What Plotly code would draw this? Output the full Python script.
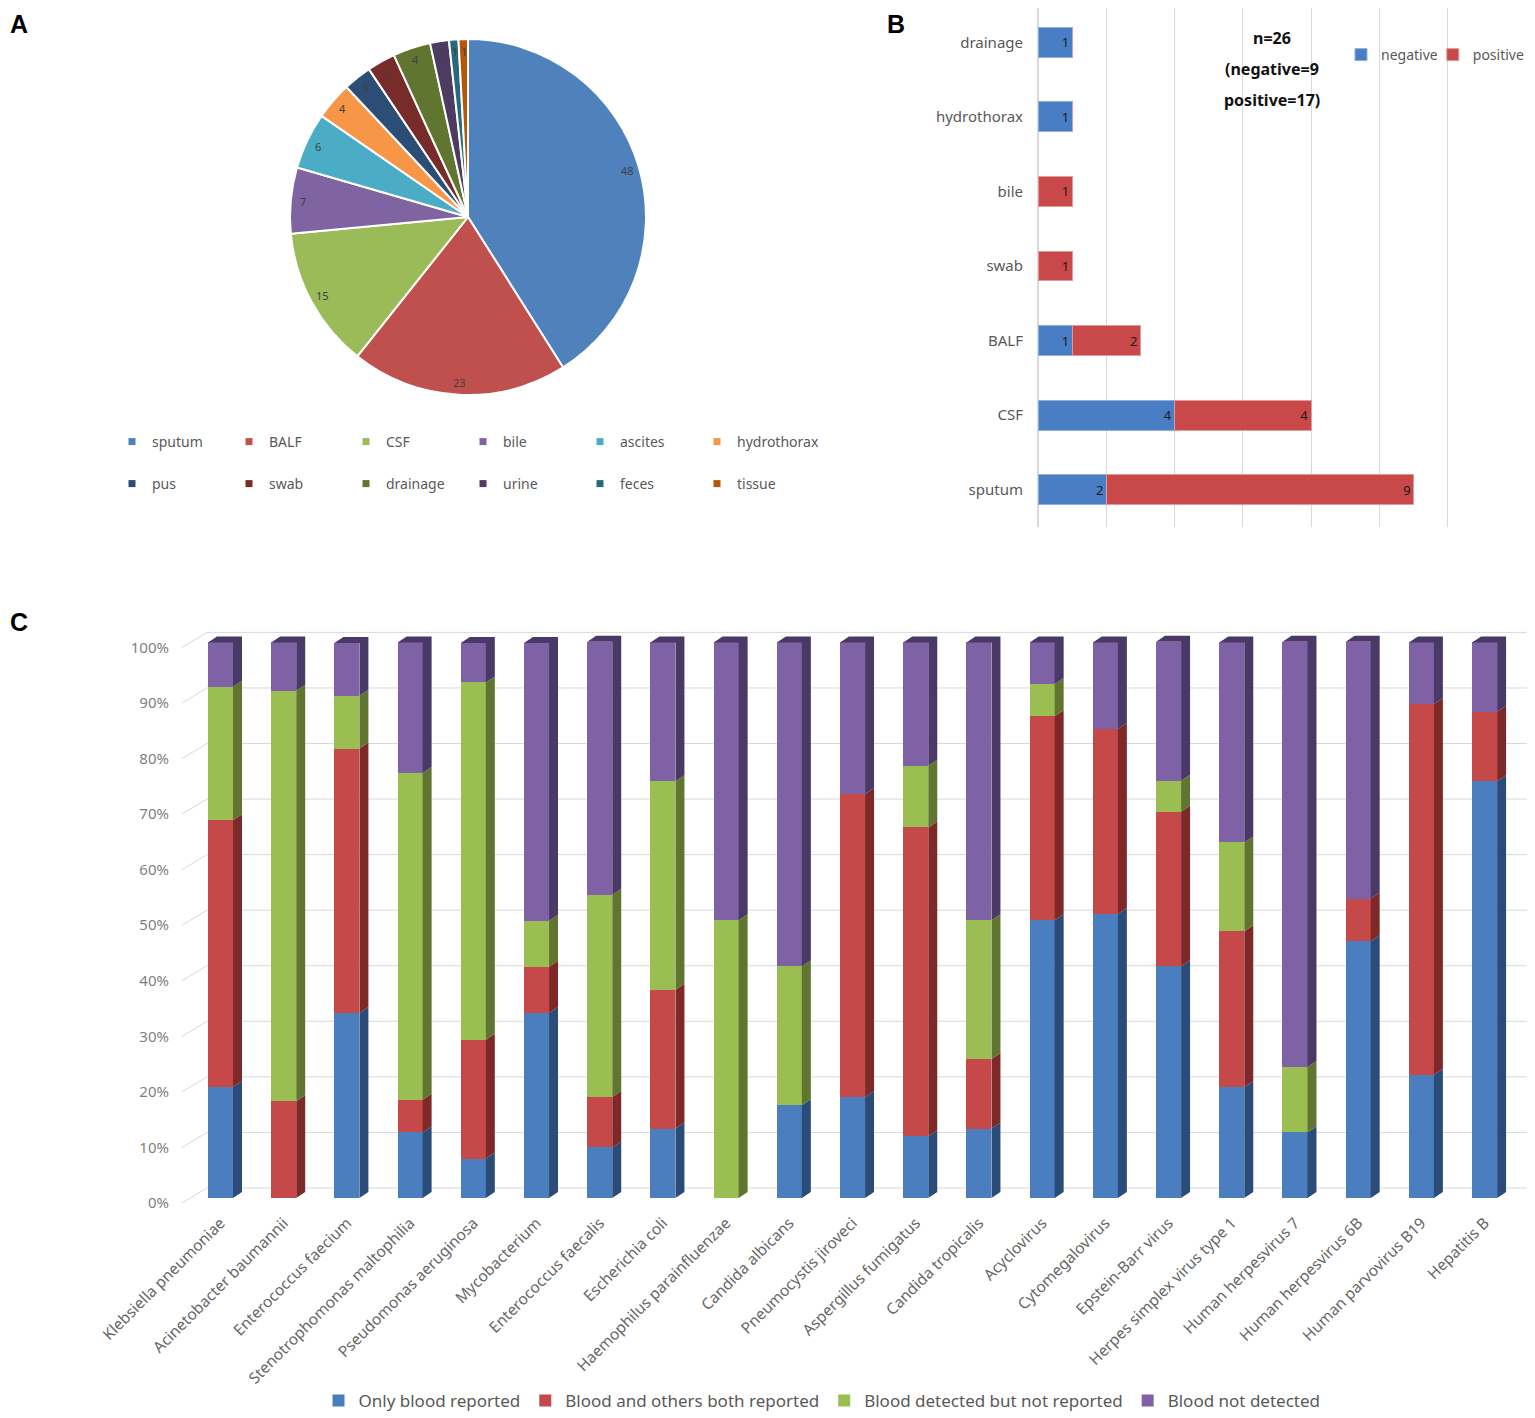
import math
import plotly.graph_objects as go

# the page body adds an 8px offset; work in reference pixels and shift
OFF = 8
W, H = 1535 - OFF, 1418 - OFF

# ---------------- Panel A data ----------------
pie_labels = ["sputum", "BALF", "CSF", "bile", "ascites", "hydrothorax",
              "pus", "swab", "drainage", "urine", "feces", "tissue"]
pie_values = [48, 23, 15, 7, 6, 4, 3, 3, 4, 2, 1, 1]
pie_colors = ["#4F81BD", "#C0504D", "#9BBB59", "#8064A2", "#4BACC6", "#F79646",
              "#2C4D75", "#772C2A", "#5F7530", "#4D3B62", "#276A7C", "#B65708"]

# ---------------- Panel B data ----------------
b_cats = ["sputum", "CSF", "BALF", "swab", "bile", "hydrothorax", "drainage"]
b_negative = [2, 4, 1, 0, 0, 1, 1]
b_positive = [9, 4, 2, 1, 1, 0, 0]
b_note = ["n=26", "(negative=9", "positive=17)"]

# ---------------- Panel C data ----------------
c_cats = ["Klebsiella pneumoniae", "Acinetobacter baumannii", "Enterococcus faecium",
          "Stenotrophomonas maltophilia", "Pseudomonas aeruginosa", "Mycobacterium",
          "Enterococcus faecalis", "Escherichia coli", "Haemophilus parainfluenzae",
          "Candida albicans", "Pneumocystis jiroveci", "Aspergillus fumigatus",
          "Candida tropicalis", "Acyclovirus", "Cytomegalovirus", "Epstein-Barr virus",
          "Herpes simplex virus type 1", "Human herpesvirus 7", "Human herpesvirus 6B",
          "Human parvovirus B19", "Hepatitis B"]
only_blood = [20.0, 0, 33.3, 11.8, 7.1, 33.3, 9.1, 12.5, 0, 16.7, 18.2, 11.1, 12.5,
              50.0, 51.1, 41.7, 20.0, 11.8, 46.2, 22.2, 75.0]
both_reported = [48.0, 17.4, 47.6, 5.9, 21.4, 8.3, 9.1, 25.0, 0, 0, 54.5, 55.6, 12.5,
                 36.7, 33.3, 27.8, 28.0, 0, 7.7, 66.7, 12.5]
detected_not_reported = [24.0, 73.9, 9.5, 58.8, 64.3, 8.3, 36.4, 37.5, 50.0, 25.0, 0,
                         11.1, 25.0, 5.8, 0, 5.6, 16.0, 11.8, 0, 0, 0]
not_detected = [8.0, 8.7, 9.5, 23.5, 7.1, 50.0, 45.5, 25.0, 50.0, 58.3, 27.3, 22.2,
                50.0, 7.5, 15.6, 25.0, 36.0, 76.5, 46.2, 11.1, 12.5]
c_series = ["Only blood reported", "Blood and others both reported",
            "Blood detected but not reported", "Blood not detected"]
c_y_ticks = [0, 10, 20, 30, 40, 50, 60, 70, 80, 90, 100]
c_y_ticktext = ["0%", "10%", "20%", "30%", "40%", "50%", "60%", "70%", "80%", "90%", "100%"]

# ---------------- styles ----------------
FONT = "Noto Sans"
GRAY = "#595959"
c_front = ["#4A7EBF", "#C6494A", "#9BBE53", "#7F62A6"]
c_side = ["#2B4C78", "#7E2927", "#5F7530", "#4A3867"]
b_colors = ["#4A7EC4", "#C9494A"]
GRID = "#D9D9D9"


def px_x(p):
    return min(1.0, max(0.0, (p - OFF) / W))


def px_y(p):
    return min(1.0, max(0.0, 1 - (p - OFF) / H))


fig = go.Figure()

# ---------------- Panel A: pie ----------------
pie_cx, pie_cy, pie_r = 468, 217, 178
fig.add_trace(go.Pie(
    labels=pie_labels, values=pie_values, sort=False, direction="clockwise",
    rotation=0, textinfo="none", hoverinfo="label+value", showlegend=False,
    marker=dict(colors=pie_colors, line=dict(color="white", width=2)),
    domain=dict(x=[px_x(pie_cx - pie_r), px_x(pie_cx + pie_r)],
                y=[px_y(pie_cy + pie_r), px_y(pie_cy - pie_r)]),
))

total = sum(pie_values)
cum = 0
annotations = []
for lab, v in zip(pie_labels, pie_values):
    mid = (cum + v / 2) / total * 2 * math.pi
    cum += v
    rr = 0.93 * pie_r
    xx = pie_cx + rr * math.sin(mid)
    yy = pie_cy - rr * math.cos(mid)
    annotations.append(dict(x=px_x(xx), y=px_y(yy), xref="paper", yref="paper",
                            xanchor="center", yanchor="middle",
                            text=str(v), showarrow=False,
                            font=dict(family=FONT, size=11, color="#404040")))

# pie legend rows (two legends of six entries each)
for k, (lab, col) in enumerate(zip(pie_labels, pie_colors)):
    fig.add_trace(go.Scatter(
        x=[None], y=[None], mode="markers", name=lab,
        marker=dict(symbol="square", size=7, color=col),
        legend="legend" if k < 6 else "legend2",
        xaxis="x2", yaxis="y3", hoverinfo="skip",
    ))

# ---------------- Panel B: horizontal stacked bars ----------------
fig.add_trace(go.Bar(
    y=b_cats, x=b_negative, orientation="h", name="negative",
    marker=dict(color=b_colors[0], line=dict(color="#8FB0DA", width=1)),
    width=0.4, text=[str(v) if v else "" for v in b_negative],
    textposition="inside", insidetextanchor="end",
    textfont=dict(family=FONT, size=13, color="#1A1A1A"),
    legend="legend3", xaxis="x", yaxis="y",
))
fig.add_trace(go.Bar(
    y=b_cats, x=b_positive, orientation="h", name="positive",
    marker=dict(color=b_colors[1], line=dict(color="#E09A9A", width=1)),
    width=0.4, text=[str(v) if v else "" for v in b_positive],
    textposition="inside", insidetextanchor="end",
    textfont=dict(family=FONT, size=13, color="#1A1A1A"),
    legend="legend3", xaxis="x", yaxis="y",
))
for j, line in enumerate(b_note):
    annotations.append(dict(x=px_x(1272), y=px_y(38 + 31 * j), xref="paper", yref="paper",
                            xanchor="center", yanchor="middle",
                            text="<b>" + line + "</b>", showarrow=False,
                            font=dict(family=FONT, size=16, color="#111111")))

# ---------------- Panel C: pseudo-3D 100% stacked columns ----------------
series_vals = [only_blood, both_reported, detected_not_reported, not_detected]
xi = list(range(len(c_cats)))
hw, dx, dy = 0.198, 0.142, 1.08

for s, (name, vals) in enumerate(zip(c_series, series_vals)):
    fig.add_trace(go.Bar(
        x=xi, y=vals, name=name, width=2 * hw,
        marker=dict(color=c_front[s], line=dict(width=0)),
        legend="legend4", xaxis="x2", yaxis="y2",
        hovertemplate="%{y:.1f}%<extra>" + name + "</extra>",
    ))

# side faces per series, top face on the topmost segment
side_x = [[] for _ in c_series]
side_y = [[] for _ in c_series]
for i in xi:
    base = 0.0
    top_series = None
    for s, vals in enumerate(series_vals):
        v = vals[i]
        if v <= 0:
            continue
        b, t = base, base + v
        x0, x1 = i + hw, i + hw + dx
        side_x[s] += [x0, x1, x1, x0, x0, None]
        side_y[s] += [b, b + dy, t + dy, t, b, None]
        base = t
        top_series = s
    if top_series is not None:
        T = base
        side_x[top_series] += [i - hw, i - hw + dx, i + hw + dx, i + hw, i - hw, None]
        side_y[top_series] += [T, T + dy, T + dy, T, T, None]

for s in range(len(c_series)):
    fig.add_trace(go.Scatter(
        x=side_x[s], y=side_y[s], mode="none", fill="toself",
        fillcolor=c_side[s], showlegend=False, hoverinfo="skip",
        xaxis="x2", yaxis="y2",
    ))

# back-wall gridlines and perspective connectors (behind bars)
shapes = []
gx_left, gx_back, gx_right = -0.609, -0.2136, 20.75
floor_off, wall_off = -0.9, 1.8
for t in c_y_ticks:
    shapes.append(dict(type="line", xref="x2", yref="y2", layer="below",
                       x0=gx_back, x1=gx_right, y0=t + wall_off, y1=t + wall_off,
                       line=dict(color=GRID, width=1)))
    shapes.append(dict(type="line", xref="x2", yref="y2", layer="below",
                       x0=gx_left, x1=gx_back, y0=t + floor_off, y1=t + wall_off,
                       line=dict(color=GRID, width=1)))

# panel letters
for letter, lx, ly in [("A", 8, 24), ("B", 885, 24), ("C", 8, 622)]:
    annotations.append(dict(x=px_x(lx), y=px_y(ly), xref="paper", yref="paper",
                            xanchor="left", yanchor="middle", text="<b>" + letter + "</b>",
                            showarrow=False,
                            font=dict(family="Liberation Sans", size=25, color="black")))

c_ylo, c_yhi = -1.44, 103.13
# panel B: plot top clipped at the page offset; keep the category scale
b_top_px, b_bot_px = 8, 527
b_step = (527 - 5) / 7.0
b_range = [-0.5, 6.5 - (b_top_px - 5) / b_step]

legend_common = dict(orientation="h", xref="container", yref="container",
                     xanchor="left", yanchor="middle", itemwidth=30,
                     traceorder="normal", bgcolor="rgba(0,0,0,0)")

fig.update_layout(
    width=W, height=H, autosize=False,
    margin=dict(l=0, r=0, t=0, b=0, pad=0, autoexpand=False),
    paper_bgcolor="white", plot_bgcolor="white",
    barmode="stack",
    font=dict(family=FONT, color=GRAY),
    # Panel B axes
    xaxis=dict(domain=[px_x(1038), px_x(1450)], range=[0, 12.06], dtick=2,
               showgrid=True, gridcolor=GRID, zeroline=True, zerolinecolor=GRID,
               showticklabels=False, showline=False, anchor="y", fixedrange=True,
               automargin=False),
    yaxis=dict(domain=[px_y(b_bot_px), px_y(b_top_px)], type="category",
               categoryorder="array", categoryarray=b_cats, range=b_range,
               showgrid=False, zeroline=False, showline=False, ticks="",
               ticklabelstandoff=14, tickfont=dict(family=FONT, size=15, color=GRAY),
               anchor="x", fixedrange=True, automargin=False),
    # Panel C axes
    xaxis2=dict(domain=[px_x(175), px_x(1532)], range=[-0.72, 20.75],
                tickmode="array", tickvals=xi, ticktext=c_cats, tickangle=-45,
                showgrid=False, zeroline=False, showline=False, ticks="",
                ticklabelstandoff=4,
                tickfont=dict(family=FONT, size=15.5, color="#666666"),
                anchor="y2", fixedrange=True, automargin=False),
    yaxis2=dict(domain=[px_y(1206), px_y(625)], range=[c_ylo, c_yhi],
                showgrid=False, zeroline=False, showline=False, showticklabels=False,
                anchor="x2", fixedrange=True, automargin=False),
    yaxis3=dict(domain=[px_y(1206), px_y(625)], range=[c_ylo - floor_off, c_yhi - floor_off],
                overlaying="y2", anchor="x2", side="left",
                tickmode="array", tickvals=c_y_ticks, ticktext=c_y_ticktext,
                showgrid=False, zeroline=False, showline=False, ticks="",
                ticklabelstandoff=5, tickfont=dict(family=FONT, size=15, color="#7F7F7F"),
                fixedrange=True, automargin=False),
    legend=dict(legend_common, x=px_x(122), y=px_y(442), entrywidth=82, indentation=-10,
                font=dict(family=FONT, size=14, color=GRAY)),
    legend2=dict(legend_common, x=px_x(122), y=px_y(484), entrywidth=82, indentation=-10,
                 font=dict(family=FONT, size=14, color=GRAY)),
    legend3=dict(legend_common, x=px_x(1351), y=px_y(55), indentation=-10,
                 font=dict(family=FONT, size=14, color=GRAY)),
    legend4=dict(legend_common, x=px_x(822), y=px_y(1401), xanchor="center",
                 font=dict(family=FONT, size=17, color=GRAY)),
    annotations=annotations,
    shapes=shapes,
)

fig.write_html("out.html")
